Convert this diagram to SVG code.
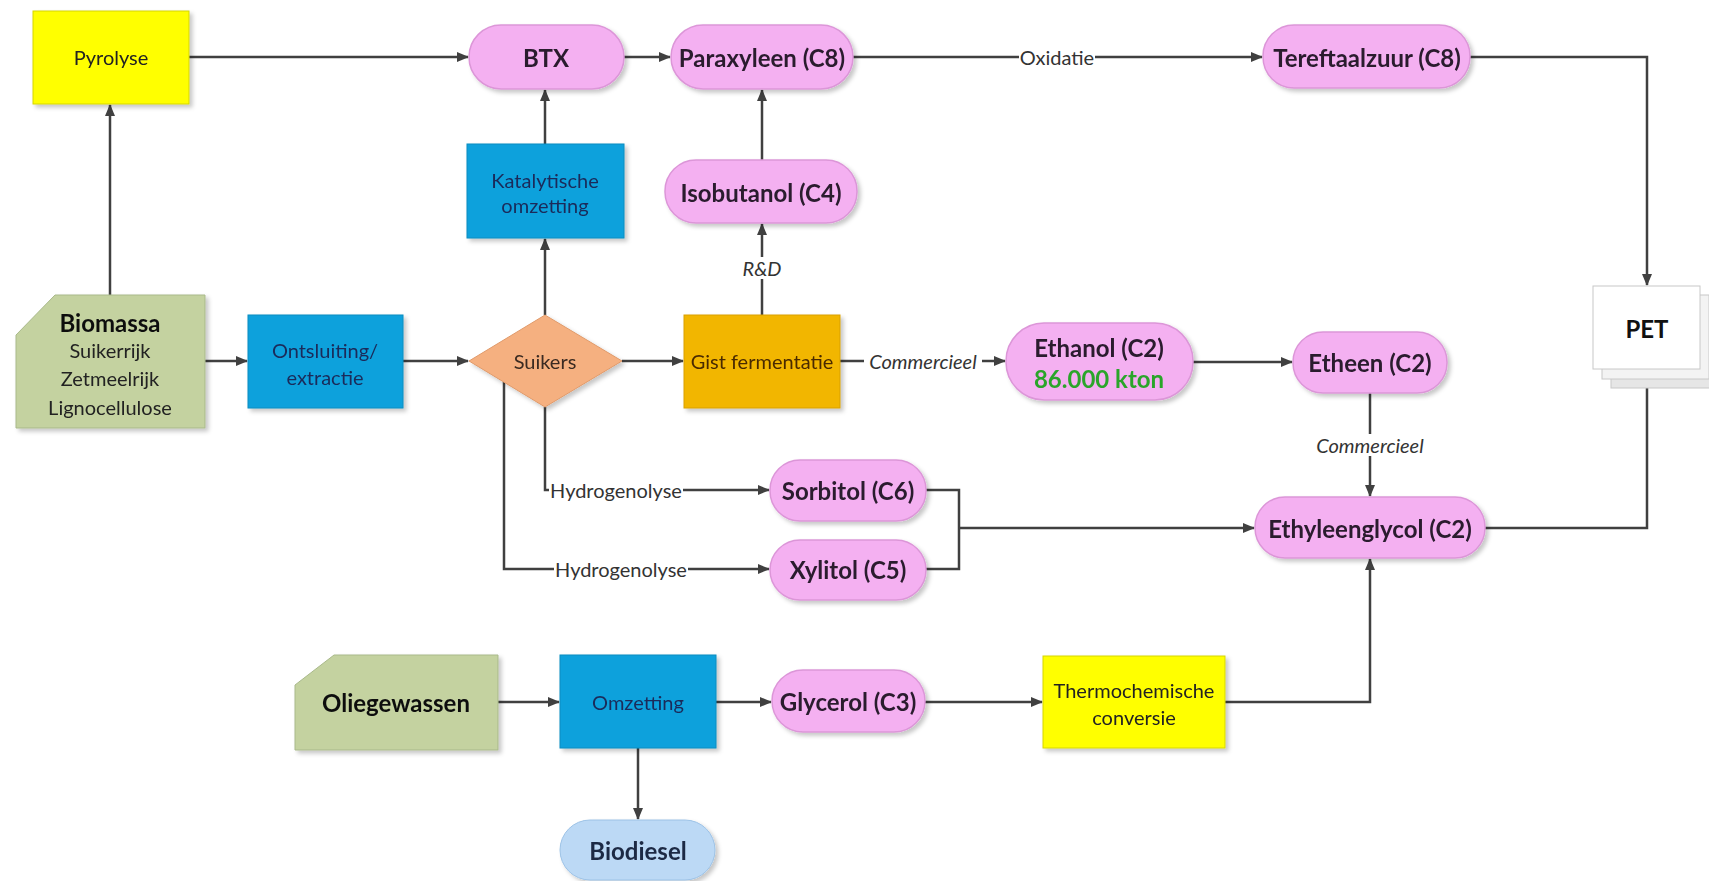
<svg xmlns="http://www.w3.org/2000/svg" width="1709" height="881" viewBox="0 0 1709 881">
<style>
text{font-family:Lato,"Open Sans","Liberation Sans",sans-serif;text-anchor:middle;dominant-baseline:central}
.b{font-weight:bold;font-size:24px;fill:#2a1a2e}
.r{font-size:20px;fill:#222}
.bl{font-size:20px;fill:#1a2b5a}
.lbl{font-size:20px;fill:#333}
.it{font-size:20px;fill:#333;font-style:italic}
.pill{fill:#f4b0f1;stroke:#dc96d8;stroke-width:1.5}
.blue{fill:#0ea1dc;stroke:#0b8cc0;stroke-width:1}
.yel{fill:#ffff00;stroke:#d6d600;stroke-width:1}
.grn{fill:#c4d2a0;stroke:#a9b98a;stroke-width:1}
.conn path{fill:none;stroke:#404040;stroke-width:2.5}
.conn rect{fill:#fff}
</style>
<defs>
<marker id="ah" viewBox="0 0 12 10" refX="11" refY="5" markerWidth="12" markerHeight="10" markerUnits="userSpaceOnUse" orient="auto">
<path d="M0,0 L12,5 L0,10 z" fill="#404040"/>
</marker>
<filter id="sh" x="-10%" y="-10%" width="130%" height="140%">
<feDropShadow dx="3" dy="3" stdDeviation="2" flood-color="#000" flood-opacity="0.22"/>
</filter>
</defs>
<rect width="1709" height="881" fill="#fff"/>

<g class="conn">
<path d="M110,295 V105" marker-end="url(#ah)"/>
<path d="M189,57 H468" marker-end="url(#ah)"/>
<path d="M624,57 H670" marker-end="url(#ah)"/>
<path d="M853,57 H1262" marker-end="url(#ah)"/>
<path d="M1470,57 H1647 V285" marker-end="url(#ah)"/>
<path d="M205,361 H247" marker-end="url(#ah)"/>
<path d="M403,361 H468" marker-end="url(#ah)"/>
<path d="M545,315 V239" marker-end="url(#ah)"/>
<path d="M545,144 V90" marker-end="url(#ah)"/>
<path d="M622,361 H683" marker-end="url(#ah)"/>
<path d="M762,315 V224" marker-end="url(#ah)"/>
<path d="M762,160 V90" marker-end="url(#ah)"/>
<path d="M840,361 H1005" marker-end="url(#ah)"/>
<path d="M1193,362 H1292" marker-end="url(#ah)"/>
<path d="M1370,393 V496" marker-end="url(#ah)"/>
<path d="M1485,528 H1647 V370" marker-end="url(#ah)"/>
<path d="M545,407 V490 H769" marker-end="url(#ah)"/>
<path d="M504,382 V569 H769" marker-end="url(#ah)"/>
<path d="M926,490 H959 V569 H926"/>
<path d="M959,528 H1254" marker-end="url(#ah)"/>
<path d="M498,702 H559" marker-end="url(#ah)"/>
<path d="M716,702 H771" marker-end="url(#ah)"/>
<path d="M638,748 V819" marker-end="url(#ah)"/>
<path d="M925,702 H1042" marker-end="url(#ah)"/>
<path d="M1225,702 H1370 V559" marker-end="url(#ah)"/>
<rect x="1019" y="46" width="76" height="22"/>
<text class="lbl" x="1057" y="57">Oxidatie</text>
<rect x="746" y="257" width="32" height="22"/>
<text class="it" x="762" y="268">R&amp;D</text>
<rect x="864" y="350" width="118" height="22"/>
<text class="it" x="923" y="361">Commercieel</text>
<rect x="1311" y="434" width="118" height="22"/>
<text class="it" x="1370" y="445">Commercieel</text>
<rect x="549" y="479" width="134" height="22"/>
<text class="lbl" x="616" y="490">Hydrogenolyse</text>
<rect x="554" y="558" width="134" height="22"/>
<text class="lbl" x="621" y="569">Hydrogenolyse</text>
</g>

<g id="pyrolyse" filter="url(#sh)"><rect class="yel" x="33" y="11" width="156" height="93"/><text class="r" x="111" y="57">Pyrolyse</text></g>
<g id="btx" filter="url(#sh)"><rect class="pill" x="469" y="25" width="155" height="64" rx="32"/><text class="b" x="546" y="57">BTX</text></g>
<g id="paraxyleen" filter="url(#sh)"><rect class="pill" x="671" y="25" width="182" height="64" rx="32"/><text class="b" x="762" y="57">Paraxyleen (C8)</text></g>
<g id="tereftaalzuur" filter="url(#sh)"><rect class="pill" x="1263" y="25" width="207" height="63" rx="31"/><text class="b" x="1367" y="57">Tereftaalzuur (C8)</text></g>
<g id="katalytische" filter="url(#sh)"><rect class="blue" x="467" y="144" width="157" height="94"/><text class="bl" x="545" y="180">Katalytische</text><text class="bl" x="545" y="205">omzetting</text></g>
<g id="isobutanol" filter="url(#sh)"><rect class="pill" x="665" y="160" width="192" height="63" rx="31"/><text class="b" x="761" y="192">Isobutanol (C4)</text></g>
<g id="pet">
<rect x="1611" y="304" width="107" height="84" fill="#e6e6e6" stroke="#c8c8c8"/>
<rect x="1602" y="295" width="107" height="84" fill="#f3f3f3" stroke="#c8c8c8"/>
<rect x="1593" y="286" width="107" height="83" fill="#fff" stroke="#c8c8c8"/>
<text class="b" x="1647" y="328" style="fill:#111">PET</text>
</g>
<g id="biomassa" filter="url(#sh)"><path class="grn" d="M55,295 H205 V428 H16 V335 Z"/>
<text class="b" x="110" y="322" style="fill:#111">Biomassa</text>
<text class="r" x="110" y="350">Suikerrijk</text>
<text class="r" x="110" y="378">Zetmeelrijk</text>
<text class="r" x="110" y="407">Lignocellulose</text></g>
<g id="ontsluiting" filter="url(#sh)"><rect class="blue" x="248" y="315" width="155" height="93"/><text class="bl" x="325" y="350">Ontsluiting/</text><text class="bl" x="325" y="377">extractie</text></g>
<g id="suikers" filter="url(#sh)"><path d="M545,315 L622,361 L545,407 L469,361 Z" fill="#f5b080" stroke="#e09a6a"/><text class="r" x="545" y="361" style="fill:#3a2a20">Suikers</text></g>
<g id="gist" filter="url(#sh)"><rect x="684" y="315" width="156" height="93" fill="#f2b600" stroke="#d9a000"/><text class="r" x="762" y="361" style="fill:#4a2a00">Gist fermentatie</text></g>
<g id="ethanol" filter="url(#sh)"><rect class="pill" x="1006" y="323" width="187" height="77" rx="38"/><text class="b" x="1099" y="347">Ethanol (C2)</text><text class="b" x="1099" y="378" style="fill:#2ca52c">86.000 kton</text></g>
<g id="etheen" filter="url(#sh)"><rect class="pill" x="1293" y="332" width="154" height="61" rx="30"/><text class="b" x="1370" y="362">Etheen (C2)</text></g>
<g id="sorbitol" filter="url(#sh)"><rect class="pill" x="770" y="460" width="156" height="61" rx="30"/><text class="b" x="848" y="490">Sorbitol (C6)</text></g>
<g id="xylitol" filter="url(#sh)"><rect class="pill" x="770" y="540" width="156" height="60" rx="30"/><text class="b" x="848" y="569">Xylitol (C5)</text></g>
<g id="ethyleenglycol" filter="url(#sh)"><rect class="pill" x="1255" y="497" width="230" height="61" rx="30"/><text class="b" x="1370" y="528">Ethyleenglycol (C2)</text></g>
<g id="oliegewassen" filter="url(#sh)"><path class="grn" d="M334,655 H498 V750 H295 V685 Z"/><text class="b" x="396" y="702" style="fill:#111">Oliegewassen</text></g>
<g id="omzetting" filter="url(#sh)"><rect class="blue" x="560" y="655" width="156" height="93"/><text class="bl" x="638" y="702">Omzetting</text></g>
<g id="glycerol" filter="url(#sh)"><rect class="pill" x="772" y="670" width="153" height="62" rx="31"/><text class="b" x="848" y="701">Glycerol (C3)</text></g>
<g id="thermochemische" filter="url(#sh)"><rect class="yel" x="1043" y="656" width="182" height="92"/><text class="r" x="1134" y="690">Thermochemische</text><text class="r" x="1134" y="717">conversie</text></g>
<g id="biodiesel" filter="url(#sh)"><rect x="560" y="820" width="155" height="60" rx="30" fill="#bcd9f5" stroke="#9cc2e6"/><text class="b" x="638" y="850" style="fill:#1f2a44">Biodiesel</text></g>
</svg>
